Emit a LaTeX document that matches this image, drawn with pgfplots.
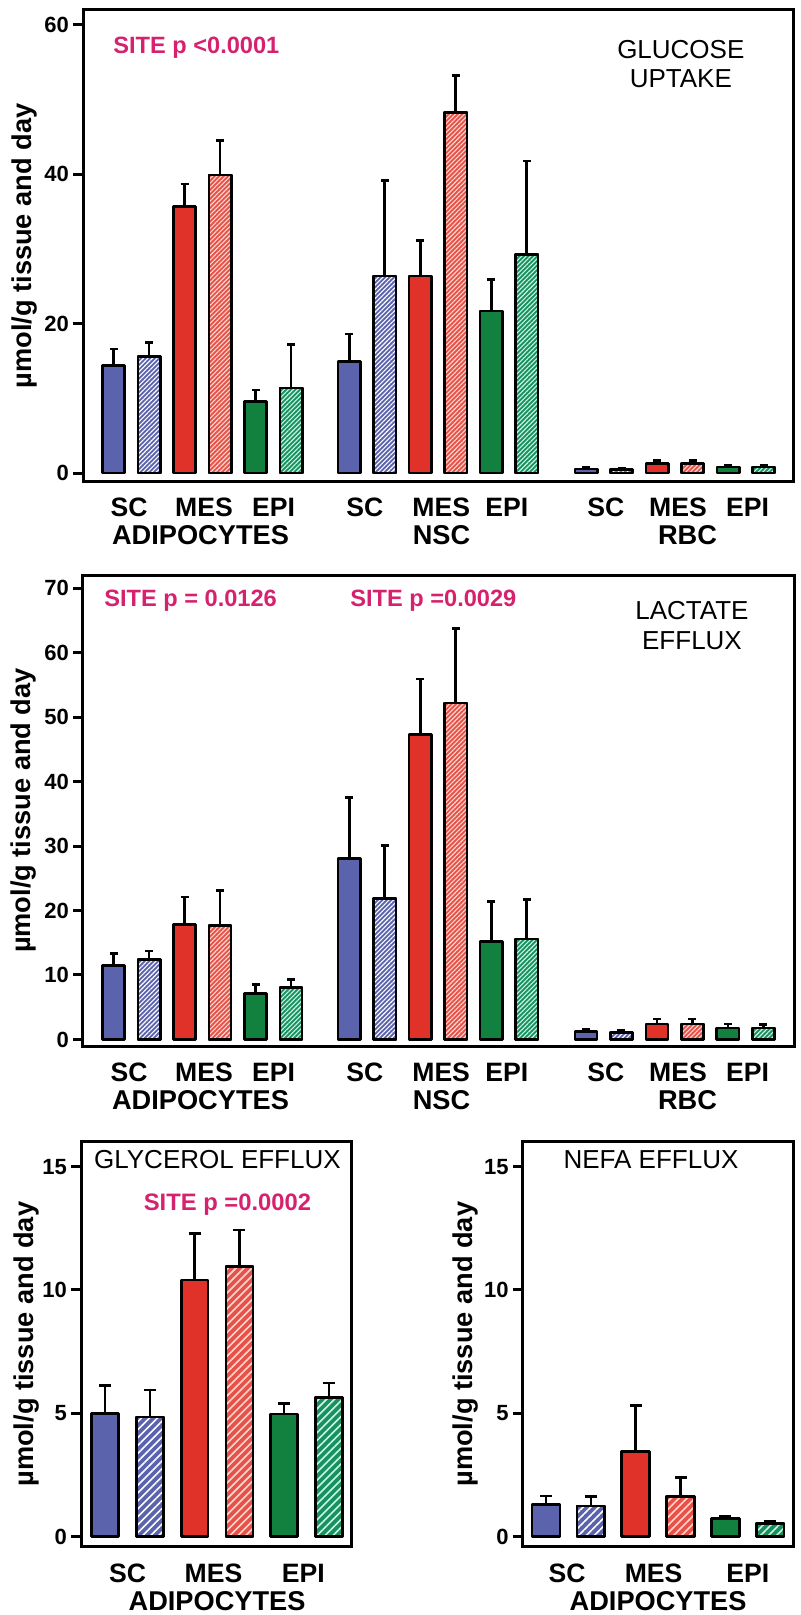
\documentclass[border=0pt]{standalone}
\usepackage{pgfplots}
\pgfplotsset{compat=1.18}
\usetikzlibrary{patterns.meta}
\usepackage{fontspec}
\setmainfont{Liberation Sans}
\setsansfont{Liberation Sans}
\definecolor{cBlue}{RGB}{90,99,172}
\definecolor{cRed}{RGB}{224,50,40}
\definecolor{cGreen}{RGB}{18,128,62}
\definecolor{cRedH}{RGB}{230,82,74}
\definecolor{cGreenH}{RGB}{22,145,95}
\definecolor{sRed}{RGB}{255,215,205}
\definecolor{sGreen}{RGB}{205,245,228}
\definecolor{cMag}{RGB}{214,34,110}

\pgfplotsset{
  panel/.style={
    scale only axis,
    anchor=north west,
    axis line style={line width=1.5pt},
    tick align=outside,
    ytick pos=left,
    xtick pos=bottom,
    xtick style={draw=none},
    ytick style={line width=1.5pt, black},
    major tick length=5pt,
    /pgf/number format/assume math mode=true,
    yticklabel style={font=\fontsize{11}{12}\selectfont\bfseries, xshift=1.5pt},
    xticklabel style={font=\fontsize{13.3}{15}\selectfont\bfseries, anchor=base, yshift=-12.5pt},
    extra x tick style={grid=none, major tick length=0pt,
      xticklabel style={font=\fontsize{13.6}{15}\selectfont\bfseries, yshift=-19pt}},
    ylabel={µmol/g tissue and day},
  },
  ylab/.style={every axis y label/.style={rotate=90, anchor=center, at={(rel axis cs:#1,0.5)}, font=\fontsize{13.6}{16}\selectfont\bfseries}},
  bar/.style={ybar, bar shift=0pt, draw=black, line width=1.3pt, line join=round,
    error bars/y dir=plus, error bars/y explicit,
    error bars/error bar style={line width=1.3pt, black, solid},
    error bars/error mark options={rotate=90, mark size=#1, line width=1.3pt, black}},
  sB/.style={bar=#1, fill=cBlue},
  sR/.style={bar=#1, fill=cRed},
  sG/.style={bar=#1, fill=cGreen},
  hatch/.style n args={5}{bar=#5, preaction={fill=#1}, pattern={Lines[angle=45,distance=#3,line width=#4]}, pattern color=#2},
}

\begin{document}
\begin{tikzpicture}
\useasboundingbox (0,0) rectangle (400pt,-807.5pt);

% ---------------- Panel 1: glucose uptake
\begin{axis}[panel, ylab=-0.083,
  at={(41.5pt,-5pt)}, width=355pt, height=236pt,
  xmin=-0.86, xmax=19.14, ymin=-1.2, ymax=62,
  ytick={0,20,40,60}, bar width=0.63,
  xtick={0.44,2.55,4.51,7.08,9.23,11.08,13.87,15.9,17.86},
  xticklabels={SC,MES,EPI,SC,MES,EPI,SC,MES,EPI},
  extra x ticks={2.45,9.24,16.17},
  extra x tick labels={ADIPOCYTES,NSC,RBC}]
\addplot[sB=2pt] coordinates {(0,14.4) +- (0,2.2) (6.64,14.9) +- (0,3.7) (13.31,0.55) +- (0,0.25)};
\addplot[hatch={cBlue}{white}{1.6pt}{0.55pt}{2pt}] coordinates {(1,15.6) +- (0,1.9) (7.64,26.4) +- (0,12.8) (14.31,0.45) +- (0,0.25)};
\addplot[sR=2pt] coordinates {(2,35.7) +- (0,3.0) (8.64,26.4) +- (0,4.7) (15.31,1.3) +- (0,0.35)};
\addplot[hatch={cRedH}{sRed}{1.6pt}{0.55pt}{2pt}] coordinates {(3,39.9) +- (0,4.6) (9.64,48.3) +- (0,4.9) (16.31,1.3) +- (0,0.35)};
\addplot[sG=2pt] coordinates {(4,9.6) +- (0,1.5) (10.64,21.7) +- (0,4.2) (17.31,0.8) +- (0,0.2)};
\addplot[hatch={cGreenH}{sGreen}{1.6pt}{0.55pt}{2pt}] coordinates {(5,11.4) +- (0,5.8) (11.64,29.3) +- (0,12.5) (18.31,0.8) +- (0,0.2)};
\node[anchor=base west, inner sep=0pt, text=cMag, font=\fontsize{11.8}{14}\selectfont\bfseries] at (rel axis cs:0.0423,0.908) {SITE p <0.0001};
\node[anchor=base, inner sep=0pt, font=\fontsize{13}{15}\selectfont] at (rel axis cs:0.842,0.898) {GLUCOSE};
\node[anchor=base, inner sep=0pt, font=\fontsize{13}{15}\selectfont] at (rel axis cs:0.842,0.835) {UPTAKE};
\end{axis}

% ---------------- Panel 2: lactate efflux
\begin{axis}[panel, ylab=-0.083,
  at={(41.5pt,-287.5pt)}, width=355.5pt, height=235.5pt,
  xmin=-0.86, xmax=19.17, ymin=-1.02, ymax=72.06,
  ytick={0,10,20,30,40,50,60,70}, bar width=0.63,
  xtick={0.44,2.55,4.51,7.08,9.23,11.08,13.87,15.9,17.86},
  xticklabels={SC,MES,EPI,SC,MES,EPI,SC,MES,EPI},
  extra x ticks={2.45,9.24,16.17},
  extra x tick labels={ADIPOCYTES,NSC,RBC}]
\addplot[sB=2pt] coordinates {(0,11.45) +- (0,1.85) (6.64,28.1) +- (0,9.4) (13.31,1.2) +- (0,0.3)};
\addplot[hatch={cBlue}{white}{1.6pt}{0.55pt}{2pt}] coordinates {(1,12.4) +- (0,1.3) (7.64,21.9) +- (0,8.2) (14.31,1.1) +- (0,0.3)};
\addplot[sR=2pt] coordinates {(2,17.8) +- (0,4.3) (8.64,47.3) +- (0,8.6) (15.31,2.4) +- (0,0.8)};
\addplot[hatch={cRedH}{sRed}{1.6pt}{0.55pt}{2pt}] coordinates {(3,17.7) +- (0,5.4) (9.64,52.2) +- (0,11.6) (16.31,2.4) +- (0,0.8)};
\addplot[sG=2pt] coordinates {(4,7.1) +- (0,1.4) (10.64,15.2) +- (0,6.2) (17.31,1.8) +- (0,0.6)};
\addplot[hatch={cGreenH}{sGreen}{1.6pt}{0.55pt}{2pt}] coordinates {(5,8.1) +- (0,1.2) (11.64,15.6) +- (0,6.1) (18.31,1.8) +- (0,0.55)};
\node[anchor=base west, inner sep=0pt, text=cMag, font=\fontsize{11.8}{14}\selectfont\bfseries] at (rel axis cs:0.0295,0.934) {SITE p = 0.0126};
\node[anchor=base west, inner sep=0pt, text=cMag, font=\fontsize{11.8}{14}\selectfont\bfseries] at (rel axis cs:0.3755,0.934) {SITE p =0.0029};
\node[anchor=base, inner sep=0pt, font=\fontsize{13}{15}\selectfont] at (rel axis cs:0.8565,0.906) {LACTATE};
\node[anchor=base, inner sep=0pt, font=\fontsize{13}{15}\selectfont] at (rel axis cs:0.8565,0.8408) {EFFLUX};
\end{axis}

% ---------------- Panel 3: glycerol efflux
\begin{axis}[panel, ylab=-0.203,
  at={(40.5pt,-570.85pt)}, width=135.35pt, height=202.5pt,
  xmin=-0.54, xmax=5.51, ymin=-0.405, ymax=16.01,
  ytick={0,5,10,15}, bar width=0.6,
  xtick={0.5,2.42,4.43}, xticklabels={SC,MES,EPI},
  xticklabel style={yshift=-0.6pt},
  extra x ticks={2.5}, extra x tick labels={ADIPOCYTES}]
\addplot[sB=3pt] coordinates {(0,5.0) +- (0,1.12)};
\addplot[hatch={cBlue}{white}{2.8pt}{0.8pt}{3pt}] coordinates {(1,4.85) +- (0,1.1)};
\addplot[sR=3pt] coordinates {(2,10.4) +- (0,1.9)};
\addplot[hatch={cRedH}{sRed}{2.8pt}{0.8pt}{3pt}] coordinates {(3,10.95) +- (0,1.48)};
\addplot[sG=3pt] coordinates {(4,4.97) +- (0,0.44)};
\addplot[hatch={cGreenH}{sGreen}{2.8pt}{0.8pt}{3pt}] coordinates {(5,5.65) +- (0,0.58)};
\node[anchor=base, inner sep=0pt, font=\fontsize{13}{15}\selectfont] at (rel axis cs:0.504,0.934) {GLYCEROL EFFLUX};
\node[anchor=base, inner sep=0pt, text=cMag, font=\fontsize{11.9}{14}\selectfont\bfseries] at (rel axis cs:0.541,0.831) {SITE p =0.0002};
\end{axis}

% ---------------- Panel 4: NEFA efflux
\begin{axis}[panel, ylab=-0.213,
  at={(261.35pt,-570.85pt)}, width=135.15pt, height=202.5pt,
  xmin=-0.52, xmax=5.51, ymin=-0.405, ymax=16.01,
  ytick={0,5,10,15}, bar width=0.62,
  xtick={0.47,2.4,4.5}, xticklabels={SC,MES,EPI},
  xticklabel style={yshift=-0.6pt},
  extra x ticks={2.5}, extra x tick labels={ADIPOCYTES}]
\addplot[sB=3pt] coordinates {(0,1.3) +- (0,0.35)};
\addplot[hatch={cBlue}{white}{2.8pt}{0.8pt}{3pt}] coordinates {(1,1.24) +- (0,0.38)};
\addplot[sR=3pt] coordinates {(2,3.45) +- (0,1.87)};
\addplot[hatch={cRedH}{sRed}{2.8pt}{0.8pt}{3pt}] coordinates {(3,1.64) +- (0,0.77)};
\addplot[sG=3pt] coordinates {(4,0.73) +- (0,0.09)};
\addplot[hatch={cGreenH}{sGreen}{2.8pt}{0.8pt}{3pt}] coordinates {(5,0.54) +- (0,0.08)};
\node[anchor=base, inner sep=0pt, font=\fontsize{13}{15}\selectfont] at (rel axis cs:0.4747,0.934) {NEFA EFFLUX};
\end{axis}
\end{tikzpicture}
\end{document}
